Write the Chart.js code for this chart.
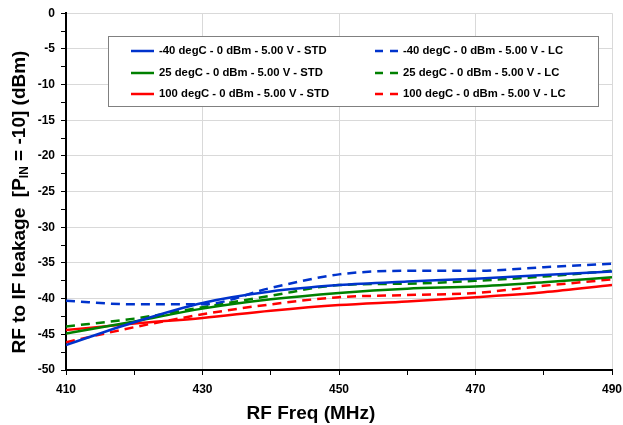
<!DOCTYPE html>
<html>
<head>
<meta charset="utf-8">
<script src="https://cdn.jsdelivr.net/npm/chart.js@4.4.0/dist/chart.umd.min.js"></script>
<style>
  html, body { margin: 0; padding: 0; background: #fff; }
  #wrap { width: 623px; height: 425px; position: relative; }
</style>
</head>
<body>
<div id="wrap"><canvas id="leakChart"></canvas></div>
<script>
// RF freq (MHz)
const freqs = [410, 420, 430, 440, 450, 460, 470, 480, 490];

// leakage (dBm)
const m40Std = [-46.5, -43.3, -40.6, -39.0, -38.1, -37.6, -37.2, -36.7, -36.2];
const m40Lc  = [-40.3, -40.8, -40.8, -38.5, -36.6, -36.1, -36.1, -35.6, -35.1];
const p25Std = [-44.9, -43.2, -41.4, -40.1, -39.2, -38.6, -38.3, -37.7, -37.0];
const p25Lc  = [-43.9, -42.8, -41.2, -39.6, -38.1, -37.9, -37.5, -36.9, -36.1];
const p100Std = [-44.4, -43.5, -42.7, -41.7, -40.9, -40.4, -39.8, -39.1, -38.1];
const p100Lc  = [-46.1, -44.0, -42.2, -40.8, -39.8, -39.5, -39.2, -38.2, -37.3];

const seriesLabels = [
    '-40 degC - 0 dBm - 5.00 V - STD',
    '-40 degC - 0 dBm - 5.00 V - LC',
    '25 degC - 0 dBm - 5.00 V - STD',
    '25 degC - 0 dBm - 5.00 V - LC',
    '100 degC - 0 dBm - 5.00 V - STD',
    '100 degC - 0 dBm - 5.00 V - LC'
];
const seriesValues = [m40Std, m40Lc, p25Std, p25Lc, p100Std, p100Lc];
const seriesColors = ['#0033cc', '#0033cc', '#008000', '#008000', '#ff0000', '#ff0000'];

const yTicks = [0, -5, -10, -15, -20, -25, -30, -35, -40, -45, -50];
const xTicks = [410, 430, 450, 470, 490];

const FONT = '"Liberation Sans", Arial, sans-serif';
const DASH = [9, 6];

const datasets = seriesValues.map((vals, i) => ({
    label: seriesLabels[i],
    data: vals.map((v, j) => ({ x: freqs[j], y: v })),
    borderColor: seriesColors[i],
    backgroundColor: seriesColors[i],
    borderWidth: 2.5,
    borderDash: i % 2 === 1 ? DASH : [],
    pointRadius: 0,
    cubicInterpolationMode: 'monotone',
    fill: false
}));

// titles + boxed legend drawn by hand (subscript, two columns)
const decorations = {
    id: 'decorations',
    afterDraw(chart) {
        const ctx = chart.ctx;
        ctx.save();
        ctx.fillStyle = '#000';

        // x title
        ctx.font = 'bold 19px ' + FONT;
        ctx.textAlign = 'center';
        ctx.textBaseline = 'middle';
        ctx.fillText('RF Freq (MHz)', 311, 414);

        // y title with subscript
        ctx.translate(20, 202);
        ctx.rotate(-Math.PI / 2);
        const big = 'bold 19px ' + FONT;
        const small = 'bold 12px ' + FONT;
        const parts = [
            { t: 'RF to IF leakage  [P', f: big, dy: 0 },
            { t: 'IN', f: small, dy: 5 },
            { t: ' = -10] (dBm)', f: big, dy: 0 }
        ];
        let total = 0;
        parts.forEach(p => { ctx.font = p.f; total += ctx.measureText(p.t).width; });
        let x = -total / 2;
        ctx.textAlign = 'left';
        parts.forEach(p => {
            ctx.font = p.f;
            ctx.fillText(p.t, x, p.dy);
            x += ctx.measureText(p.t).width;
        });
        ctx.restore();

        // legend
        ctx.save();
        ctx.fillStyle = '#fff';
        ctx.fillRect(108.5, 36.5, 490, 70);
        ctx.strokeStyle = '#808080';
        ctx.lineWidth = 1;
        ctx.strokeRect(108.5, 36.5, 490, 70);
        ctx.font = 'bold 11.3px ' + FONT;
        ctx.textBaseline = 'middle';
        ctx.textAlign = 'left';
        const rowsY = [51, 73, 94];
        const colX = [131, 375];
        seriesLabels.forEach((lab, i) => {
            const col = i % 2, row = Math.floor(i / 2);
            const lx = colX[col], ly = rowsY[row];
            ctx.strokeStyle = seriesColors[i];
            ctx.lineWidth = 2.5;
            ctx.setLineDash(col === 1 ? [8, 7] : []);
            ctx.beginPath();
            ctx.moveTo(lx, ly);
            ctx.lineTo(lx + 23, ly);
            ctx.stroke();
            ctx.setLineDash([]);
            ctx.fillStyle = '#000';
            ctx.fillText(lab, lx + 28, ly);
        });
        ctx.restore();
    }
};

const chart = new Chart(document.getElementById('leakChart').getContext('2d'), {
    type: 'line',
    data: { datasets: datasets },
    options: {
        responsive: true,
        maintainAspectRatio: false,
        animation: false,
        layout: { padding: { top: 9, right: 0, left: 0, bottom: 0 } },
        plugins: {
            legend: { display: false },
            tooltip: { enabled: false }
        },
        scales: {
            x: {
                type: 'linear',
                min: 410,
                max: 490,
                afterFit: s => { s.height = 55; s.paddingRight = 11; },
                afterBuildTicks: s => {
                    s.ticks = [];
                    for (let v = 410; v <= 490; v += 10) s.ticks.push({ value: v });
                },
                ticks: {
                    color: '#000',
                    font: { family: FONT, size: 12, weight: 'bold' },
                    padding: 7,
                    maxRotation: 0,
                    autoSkip: false,
                    callback: v => xTicks.includes(v) ? String(v) : ''
                },
                grid: {
                    color: c => (c.tick && xTicks.includes(c.tick.value) && c.tick.value !== 410) ? '#d9d9d9' : 'rgba(0,0,0,0)',
                    tickColor: '#000',
                    tickLength: 5,
                    lineWidth: 1
                },
                border: { display: true, color: '#000', width: 2 }
            },
            y: {
                type: 'linear',
                min: -50,
                max: 0,
                afterFit: s => { s.width = 66; },
                afterBuildTicks: s => {
                    s.ticks = [];
                    for (let v = -50; v <= 0; v += 2.5) s.ticks.push({ value: v });
                },
                ticks: {
                    color: '#000',
                    font: { family: FONT, size: 12, weight: 'bold' },
                    padding: 6,
                    autoSkip: false,
                    callback: v => yTicks.includes(v) ? String(v) : ''
                },
                grid: {
                    color: c => (c.tick && yTicks.includes(c.tick.value) && c.tick.value !== -50) ? '#d9d9d9' : 'rgba(0,0,0,0)',
                    tickColor: '#000',
                    tickLength: 5,
                    lineWidth: 1
                },
                border: { display: true, color: '#000', width: 2 }
            }
        }
    },
    plugins: [decorations]
});
</script>
</body>
</html>
